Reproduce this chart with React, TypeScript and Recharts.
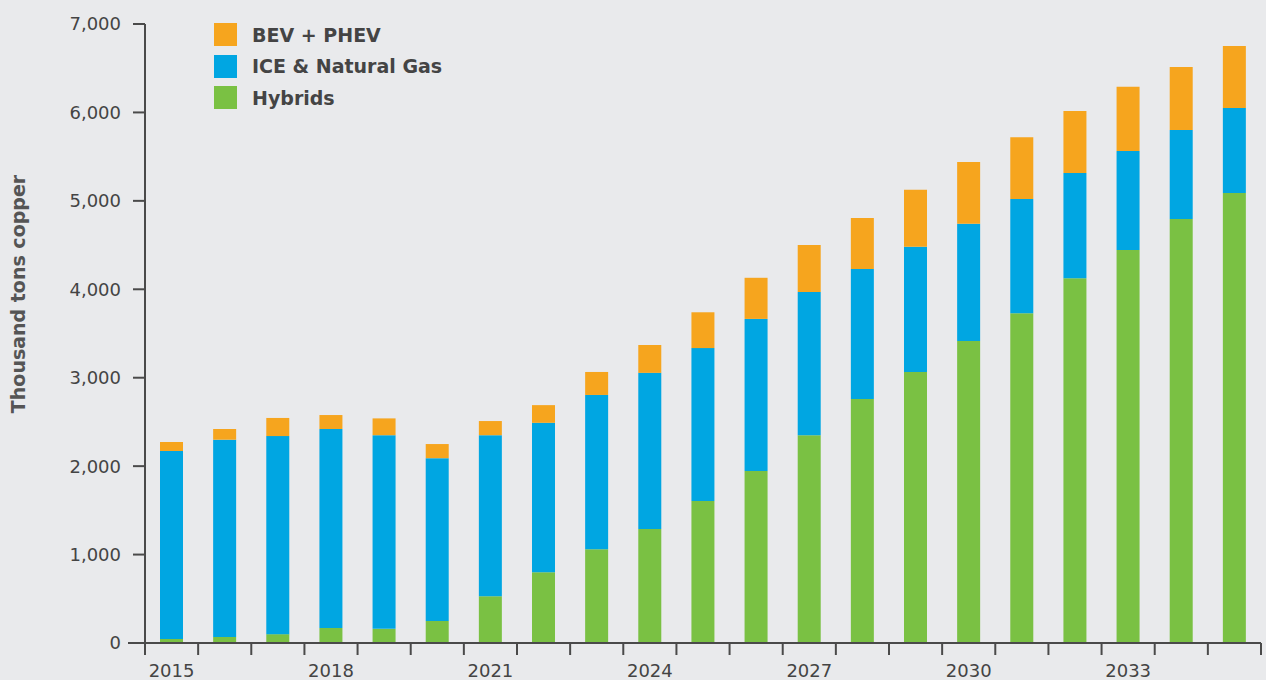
import { BarChart, Bar, XAxis, YAxis, Legend } from "recharts";

const years = [
  "2015", "2016", "2017", "2018", "2019", "2020", "2021", "2022", "2023", "2024", "2025",
  "2026", "2027", "2028", "2029", "2030", "2031", "2032", "2033", "2034", "2035",
];
const hybrids = [
  45, 68, 100, 170, 160, 250, 530, 800, 1060, 1290, 1605,
  1945, 2350, 2760, 3065, 3415, 3730, 4125, 4445, 4795, 5090,
];
const iceGas = [
  2126, 2231, 2240, 2250, 2190, 1840, 1820, 1690, 1745, 1765, 1730,
  1720, 1620, 1470, 1415, 1325, 1290, 1190, 1120, 1005, 960,
];
const bevPhev = [
  102, 121, 205, 158, 190, 160, 160, 200, 260, 315, 405,
  465, 530, 575, 645, 700, 700, 700, 725, 715, 700,
];
const yTicks = [0, 1000, 2000, 3000, 4000, 5000, 6000, 7000];
const labelYears = ["2015", "2018", "2021", "2024", "2027", "2030", "2033"];

const data = years.map((year, i) => ({
  year,
  hybrids: hybrids[i],
  iceGas: iceGas[i],
  bevPhev: bevPhev[i],
}));

const legendItems = [
  { label: "BEV + PHEV", color: "#F6A51E" },
  { label: "ICE & Natural Gas", color: "#00A6E2" },
  { label: "Hybrids", color: "#7AC143" },
];

const FONT = "'DejaVu Sans', sans-serif";
const AXIS = "#4a4a4a";
const WIDTH = 1266;
const HEIGHT = 680;
const MARGIN = { top: 24, right: 5, left: 0, bottom: 7 };
const Y_AXIS_WIDTH = 145;
const PLOT_WIDTH = WIDTH - MARGIN.left - MARGIN.right - Y_AXIS_WIDTH;
const BAND = PLOT_WIDTH / years.length;

// ticks sit on the band edges, labels every third year under the bar
const YearTick = (props: any) => {
  const { x, y, payload, index } = props;
  const left = x - BAND / 2;
  return (
    <g>
      {index === 0 && (
        <line x1={left - 17} y1={y} x2={left} y2={y} stroke={AXIS} strokeWidth={2} />
      )}
      <line x1={left} y1={y} x2={left} y2={y + 12} stroke={AXIS} strokeWidth={2} />
      {index === years.length - 1 && (
        <line x1={x + BAND / 2} y1={y} x2={x + BAND / 2} y2={y + 12} stroke={AXIS} strokeWidth={2} />
      )}
      {labelYears.includes(payload.value) && (
        <text
          x={x}
          y={y + 34}
          textAnchor="middle"
          fontFamily={FONT}
          fontSize={18}
          fill="#444"
        >
          {payload.value}
        </text>
      )}
    </g>
  );
};

const LegendBox = () => (
  <div style={{ fontFamily: FONT }}>
    {legendItems.map((item) => (
      <div
        key={item.label}
        style={{ display: "flex", alignItems: "center", height: 31.5 }}
      >
        <span
          style={{
            width: 23,
            height: 23,
            background: item.color,
            display: "inline-block",
            marginRight: 15,
          }}
        />
        <span style={{ fontSize: 19, fontWeight: "bold", color: "#444" }}>
          {item.label}
        </span>
      </div>
    ))}
  </div>
);

export default function App() {
  return (
    <div
      style={{
        position: "fixed",
        top: 0,
        left: 0,
        width: WIDTH,
        height: HEIGHT,
        background: "#E9EAEC",
        fontFamily: FONT,
      }}
    >
      <div
        style={{
          position: "absolute",
          left: 18,
          top: 294,
          transform: "translate(-50%, -50%) rotate(-90deg)",
          whiteSpace: "nowrap",
          fontSize: 19,
          fontWeight: "bold",
          color: "#555",
        }}
      >
        Thousand tons copper
      </div>
      <BarChart width={WIDTH} height={HEIGHT} data={data} margin={MARGIN}>
        <XAxis
          dataKey="year"
          interval={0}
          height={30}
          tickLine={false}
          tickSize={0}
          tickMargin={0}
          axisLine={{ stroke: AXIS, strokeWidth: 2 }}
          tick={<YearTick />}
        />
        <YAxis
          width={Y_AXIS_WIDTH}
          domain={[0, 7000]}
          ticks={yTicks}
          interval={0}
          tickSize={12}
          tickMargin={12}
          axisLine={{ stroke: AXIS, strokeWidth: 2 }}
          tickLine={{ stroke: AXIS, strokeWidth: 2 }}
          tick={{ fill: "#444", fontSize: 18, fontFamily: FONT }}
          tickFormatter={(v: number) => v.toLocaleString("en-US")}
        />
        <Legend
          layout="vertical"
          align="center"
          verticalAlign="middle"
          wrapperStyle={{ left: 214, top: 19, width: "auto", height: "auto" }}
          content={<LegendBox />}
        />
        <Bar dataKey="hybrids" stackId="a" fill="#7AC143" barSize={23} isAnimationActive={false} />
        <Bar dataKey="iceGas" stackId="a" fill="#00A6E2" barSize={23} isAnimationActive={false} />
        <Bar dataKey="bevPhev" stackId="a" fill="#F6A51E" barSize={23} isAnimationActive={false} />
      </BarChart>
    </div>
  );
}
